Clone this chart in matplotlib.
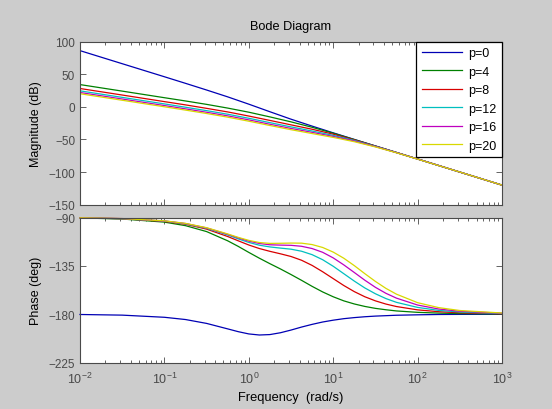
import matplotlib
matplotlib.use("Agg")
import matplotlib.pyplot as plt
import matplotlib.ticker as ticker

plt.rcParams['font.family'] = ['Liberation Sans', 'DejaVu Sans']

labels = ["p=0", "p=4", "p=8", "p=12", "p=16", "p=20"]

# magnitude (dB) read at these frequencies (rad/s)
freq_mag = [0.01, 0.0316, 0.1, 0.178, 0.316, 0.562, 1, 1.778, 3.162, 5.623,
            10, 17.78, 31.62, 56.23, 100, 177.8, 316.2, 1000]
mag_p0 = [86.0, 66.0, 46.0, 35.9, 25.7, 15.2, 4.0, -7.6, -19.0, -29.6,
          -39.9, -50.0, -60.0, -70.0, -80.0, -90.0, -100.0, -120.0]
mag_p4 = [34.0, 24.0, 13.9, 8.9, 3.7, -2.0, -8.3, -15.5, -23.1, -31.4,
          -40.5, -50.2, -60.1, -70.0, -80.0, -90.0, -100.0, -120.0]
mag_p8 = [28.0, 18.0, 7.9, 2.9, -2.4, -7.9, -14.2, -20.9, -27.7, -34.4,
          -42.0, -50.8, -60.3, -70.1, -80.0, -90.0, -100.0, -120.0]
mag_p12 = [24.4, 14.4, 4.4, -0.7, -5.9, -11.4, -17.6, -24.3, -30.8, -37.1,
           -43.8, -51.6, -60.6, -70.2, -80.1, -90.0, -100.0, -120.0]
mag_p16 = [21.9, 11.9, 1.9, -3.2, -8.4, -13.9, -20.1, -26.8, -33.2, -39.2,
           -45.4, -52.5, -61.0, -70.3, -80.1, -90.0, -100.0, -120.0]
mag_p20 = [20.0, 10.0, 0.0, -5.1, -10.3, -15.9, -22.1, -28.7, -35.1, -41.0,
           -46.9, -53.5, -61.5, -70.5, -80.2, -90.1, -100.0, -120.0]

# phase (deg) read at these frequencies (rad/s)
freq_ph = [0.01, 0.0316, 0.1, 0.178, 0.316, 0.562, 0.75, 1, 1.334, 1.778,
           2.371, 3.162, 4.217, 5.623, 7.499, 10, 13.34, 17.78, 23.71, 31.62,
           42.17, 56.23, 100, 177.8, 316.2, 1000]
phase_p0 = [-180.3, -180.9, -182.9, -185.0, -188.6, -193.7, -196.3, -198.4,
            -199.4, -199.0, -197.3, -194.8, -192.0, -189.5, -187.3, -185.6,
            -184.2, -183.2, -182.4, -181.8, -181.4, -181.0, -180.6, -180.3,
            -180.2, -180.1]
phase_p4 = [-90.4, -91.4, -94.3, -97.6, -103.1, -111.7, -116.9, -122.5,
            -127.9, -133.0, -137.9, -143.1, -148.5, -154.1, -159.3, -163.8,
            -167.6, -170.5, -172.8, -174.6, -175.9, -177.0, -178.3, -179.0,
            -179.5, -179.8]
phase_p8 = [-90.4, -91.1, -93.6, -96.3, -100.8, -107.7, -111.7, -115.6,
            -118.9, -121.5, -123.8, -126.3, -129.8, -134.6, -140.5, -146.9,
            -153.3, -159.0, -163.8, -167.6, -170.6, -172.9, -176.0, -177.7,
            -178.7, -179.6]
phase_p12 = [-90.3, -91.1, -93.3, -95.9, -100.1, -106.3, -109.9, -113.2,
             -115.8, -117.4, -118.5, -119.5, -121.4, -124.6, -129.3, -135.4,
             -142.3, -149.2, -155.6, -161.0, -165.5, -169.0, -173.7, -176.5,
             -178.0, -179.4]
phase_p16 = [-90.3, -91.0, -93.2, -95.6, -99.7, -105.7, -109.0, -112.0,
             -114.2, -115.4, -115.7, -115.9, -116.8, -118.9, -122.4, -127.6,
             -134.1, -141.2, -148.4, -155.0, -160.6, -165.1, -171.5, -175.2,
             -177.3, -179.1]
phase_p20 = [-90.3, -91.0, -93.1, -95.5, -99.5, -105.3, -108.5, -111.3,
             -113.3, -114.1, -114.0, -113.8, -113.9, -115.2, -117.9, -122.2,
             -127.9, -134.8, -142.3, -149.5, -156.0, -161.4, -169.3, -173.9,
             -176.6, -178.9]

mags = [mag_p0, mag_p4, mag_p8, mag_p12, mag_p16, mag_p20]
phases = [phase_p0, phase_p4, phase_p8, phase_p12, phase_p16, phase_p20]
colors = ["#0000b4", "#008000", "#d80000", "#00bfbf", "#bf00bf", "#d8d800"]

W, H = 552, 410
fig = plt.figure(figsize=(W / 100, H / 100), dpi=100, facecolor="#cccccc")
ax1 = fig.add_axes([80 / W, 1 - 205.7 / H, 422 / W, 163.2 / H])
ax2 = fig.add_axes([80 / W, 1 - 363.5 / H, 422 / W, 145 / H])

gray = "#4a4a4a"
for ax in (ax1, ax2):
    ax.set_xscale("log")
    ax.set_xlim(1e-2, 1e3)
    ax.tick_params(which="both", direction="in", top=True, right=True,
                   colors=gray, labelsize=8.5, width=0.6)
    ax.tick_params(which="major", length=4.5)
    ax.tick_params(which="minor", length=2.5)
    ax.xaxis.set_minor_locator(ticker.LogLocator(base=10, subs=range(2, 10)))
    ax.xaxis.set_minor_formatter(ticker.NullFormatter())
    for s in ax.spines.values():
        s.set_color(gray)
        s.set_linewidth(0.8)

for y, c, lab in zip(mags, colors, labels):
    ax1.plot(freq_mag, y, color=c, lw=0.9, label=lab)
for y, c in zip(phases, colors):
    ax2.plot(freq_ph, y, color=c, lw=0.9, clip_on=False)

ax1.set_ylim(-150, 100)
ax1.set_yticks([100, 50, 0, -50, -100, -150])
ax1.set_xticklabels([])

ax2.set_ylim(-225, -90)
ax2.set_yticks([-90, -135, -180, -225])
ax2.tick_params(axis="x", labelsize=9, pad=6)

leg = ax1.legend(loc="upper right", borderaxespad=0, fontsize=9,
                 handlelength=3.25, labelspacing=0.52, handletextpad=0.45,
                 borderpad=0.45, fancybox=False, framealpha=1)
leg.get_frame().set_edgecolor("black")
leg.get_frame().set_linewidth(0.9)

fig.text(291 / W, 1 - 27 / H, "Bode Diagram", ha="center", va="center",
         fontsize=9.2)
fig.text(36 / W, 1 - 124 / H, "Magnitude (dB)", ha="center", va="center",
         rotation=90, fontsize=9)
fig.text(36 / W, 1 - 291 / H, "Phase (deg)", ha="center", va="center",
         rotation=90, fontsize=9)
fig.text(291 / W, 1 - 398 / H, "Frequency  (rad/s)", ha="center",
         va="center", fontsize=9.3)

fig.savefig("out.png", dpi=100, facecolor=fig.get_facecolor())
